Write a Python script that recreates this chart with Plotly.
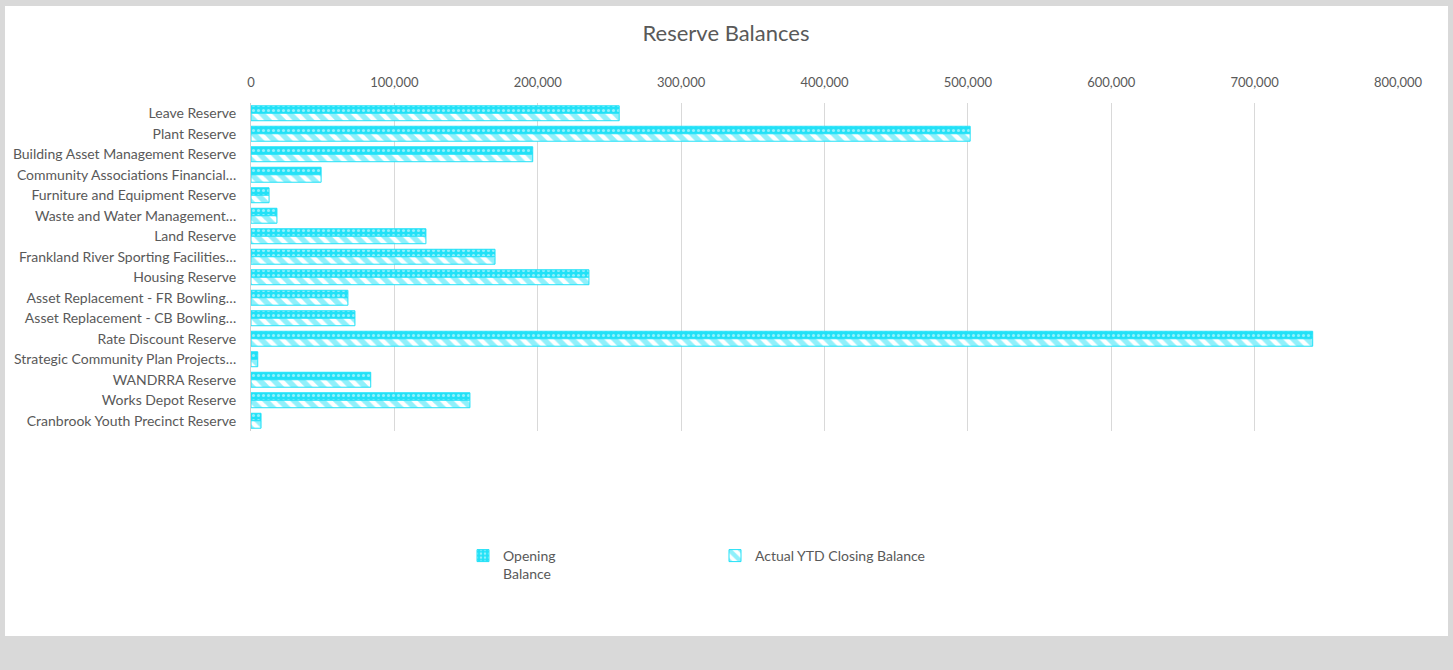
import plotly.graph_objects as go

categories = [
    "Leave Reserve",
    "Plant Reserve",
    "Building Asset Management Reserve",
    "Community Associations Financial…",
    "Furniture and Equipment Reserve",
    "Waste and Water Management…",
    "Land Reserve",
    "Frankland River Sporting Facilities…",
    "Housing Reserve",
    "Asset Replacement - FR Bowling…",
    "Asset Replacement - CB Bowling…",
    "Rate Discount Reserve",
    "Strategic Community Plan Projects…",
    "WANDRRA Reserve",
    "Works Depot Reserve",
    "Cranbrook Youth Precinct Reserve",
]
opening_balance = [256800, 501600, 196500, 48900, 12600, 18100, 122000, 170200,
                   235700, 67600, 72500, 740500, 4700, 83500, 152700, 7000]
closing_balance = [256800, 501600, 196500, 48900, 12600, 18100, 122000, 170200,
                   235700, 67600, 72500, 740500, 4700, 83500, 152700, 7000]
tick_values = [0, 100000, 200000, 300000, 400000, 500000, 600000, 700000, 800000]
tick_labels = ["0", "100,000", "200,000", "300,000", "400,000", "500,000",
               "600,000", "700,000", "800,000"]

CYAN = "#22E1F7"
TXT = "#595959"
GREY = "#D9D9D9"
FONT = "Lato, sans-serif"

fig = go.Figure()
fig.add_trace(go.Bar(
    y=categories, x=opening_balance, orientation="h", name="Opening<br>Balance",
    marker=dict(color=CYAN, line=dict(color=CYAN, width=1),
                pattern=dict(shape=".", fgcolor="white", bgcolor=CYAN,
                             size=5, solidity=0.3, fillmode="overlay")),
))
fig.add_trace(go.Bar(
    y=categories, x=closing_balance, orientation="h", name="Actual YTD Closing Balance",
    marker=dict(color="white", line=dict(color=CYAN, width=1),
                pattern=dict(shape="\\", fgcolor=CYAN, bgcolor="white",
                             size=10, solidity=0.55, fillmode="overlay")),
))

# body margin is removed by post_script below, so figure coords == page coords
W, H = 1453, 670
L, T = 251, 103
R = W - 1398
B = H - 431
pw, ph = W - L - R, H - T - B

def px_x(p):
    return (p - L) / pw

def px_y(p):
    return (H - B - p) / ph

fig.add_shape(type="rect", xref="paper", yref="paper",
              x0=px_x(5), x1=px_x(1448), y0=px_y(636), y1=px_y(6),
              fillcolor="white", line=dict(width=0), layer="below")

fig.update_layout(
    width=W, height=H,
    margin=dict(l=L, r=R, t=T, b=B, autoexpand=False),
    paper_bgcolor=GREY,
    plot_bgcolor="white",
    barmode="group", bargap=0.27, bargroupgap=0,
    font=dict(family=FONT, color=TXT, size=13),
    title=dict(text="Reserve Balances", x=726 / W, xref="container", xanchor="center",
               y=1 - 33 / H, yref="container", yanchor="middle",
               font=dict(size=22, color=TXT, family=FONT)),
    xaxis=dict(side="top", range=[0, 800000], tickvals=tick_values, ticktext=tick_labels,
               showgrid=True, gridcolor=GREY, gridwidth=1, zeroline=False,
               showline=False, ticks="", ticklabelstandoff=12, automargin=False,
               tickfont=dict(size=13, color=TXT)),
    yaxis=dict(autorange="reversed", showline=True, linecolor="#D0D0D0", linewidth=1,
               ticks="", ticklabelstandoff=11, automargin=False,
               tickfont=dict(size=14, color=TXT)),
    legend=dict(orientation="h", x=px_x(463), xanchor="left", y=px_y(540), yanchor="top",
                entrywidth=207, entrywidthmode="pixels", valign="top",
                font=dict(size=14, color=TXT), bgcolor="rgba(0,0,0,0)",
                itemwidth=30, tracegroupgap=0),
)

fig.write_html(
    "out.html",
    config={"displayModeBar": False},
    post_script="document.body.style.margin='0px';"
                "document.body.style.backgroundColor='" + GREY + "';"
                "document.body.style.overflow='hidden';",
)
